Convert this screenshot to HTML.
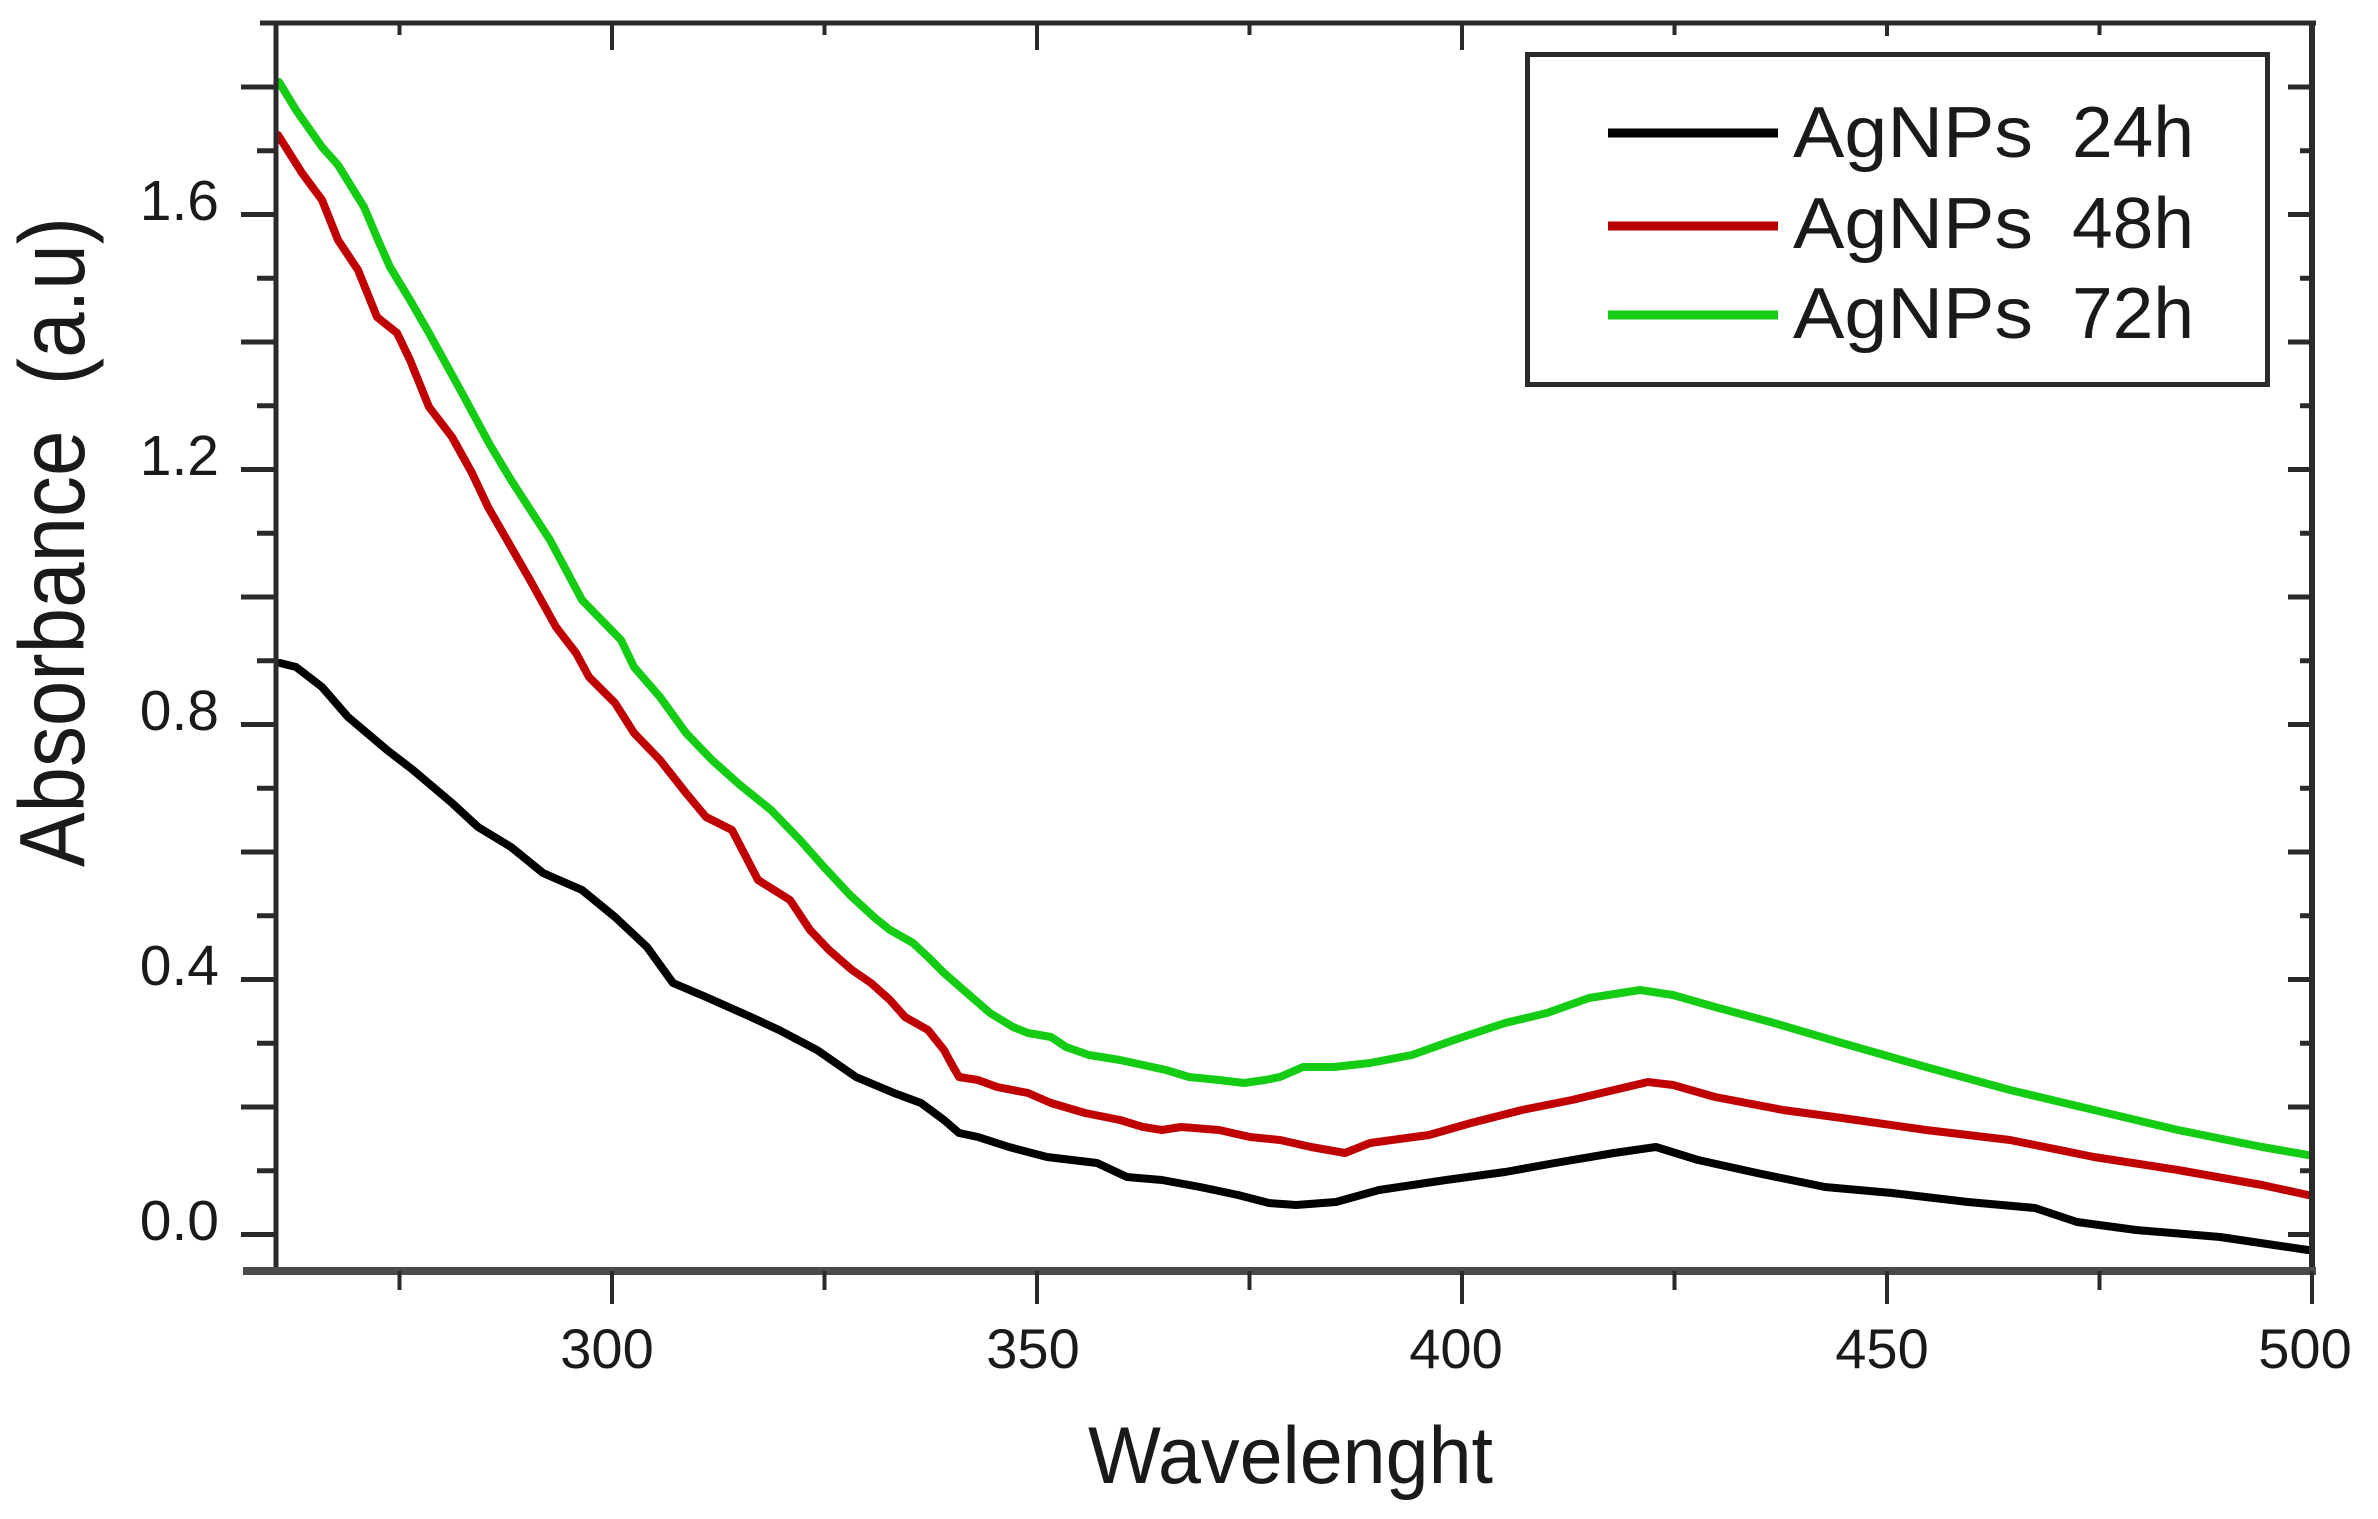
<!DOCTYPE html>
<html>
<head>
<meta charset="utf-8">
<style>
html,body{margin:0;padding:0;background:#fff;}
svg{display:block;}
text{font-family:"Liberation Sans",Arial,sans-serif;fill:#1a1a1a;}
</style>
</head>
<body>
<svg width="2378" height="1519" viewBox="0 0 2378 1519" xmlns="http://www.w3.org/2000/svg">
<rect width="2378" height="1519" fill="#fff"/>

<!-- curves -->
<g fill="none" stroke-width="8" stroke-linejoin="round" stroke-linecap="round">
<polyline stroke="#000" points="280,663 296,667 322,687 348,717 387,750 413,770 452,803 478,827 511,847 543,873 582,890 615,917 647,947 673,983 706,997 751,1017 779,1030 817,1050 856,1077 894,1093 921,1103 944,1120 959,1133 978,1137 1009,1147 1047,1157 1097,1163 1127,1177 1162,1180 1200,1187 1238,1195 1269,1203 1296,1205 1336,1202 1379,1190 1446,1180 1505,1172 1555,1163 1614,1153 1656,1147 1698,1160 1757,1173 1825,1187 1892,1193 1968,1202 2035,1208 2077,1222 2136,1230 2220,1237 2308,1250"/>
<polyline stroke="#c00000" points="278,135 302,173 322,200 338,240 358,270 377,317 397,333 410,360 429,407 452,437 472,473 488,507 507,540 530,580 556,627 576,653 589,677 615,703 634,733 660,760 686,793 706,817 732,830 758,880 790,900 810,930 829,950 852,970 871,983 890,1000 905,1017 928,1030 944,1050 951,1063 959,1077 978,1080 997,1087 1028,1093 1051,1103 1085,1113 1120,1120 1143,1127 1162,1130 1181,1127 1219,1130 1250,1137 1280,1140 1311,1147 1345,1153 1370,1143 1429,1135 1471,1123 1522,1110 1572,1100 1614,1090 1648,1082 1673,1085 1715,1097 1783,1110 1842,1118 1926,1130 2010,1140 2094,1157 2178,1170 2262,1185 2308,1195"/>
<polyline stroke="#14cc14" points="279,82 296,110 322,147 338,165 364,207 378,240 390,267 410,300 429,333 462,393 490,445 511,480 550,540 582,600 621,640 634,667 660,697 686,733 712,760 740,785 771,810 800,840 823,866 850,895 875,918 890,930 913,943 928,957 944,973 967,993 990,1013 1013,1027 1028,1033 1051,1037 1066,1047 1089,1055 1120,1060 1143,1065 1166,1070 1189,1077 1219,1080 1244,1083 1265,1080 1280,1077 1303,1067 1334,1067 1370,1063 1412,1055 1454,1040 1505,1023 1547,1013 1589,998 1640,990 1673,995 1715,1007 1774,1023 1842,1043 1926,1067 2010,1090 2094,1110 2178,1130 2262,1147 2308,1155"/>
</g>

<!-- frame -->
<g stroke="#2a2a2a" fill="none">
<line x1="260" y1="23" x2="2316" y2="23" stroke-width="5"/>
<line x1="276" y1="21" x2="276" y2="1275" stroke-width="5"/>
<line x1="2312" y1="21" x2="2312" y2="1275" stroke-width="6"/>
<line x1="243" y1="1271" x2="2316" y2="1271" stroke-width="8" stroke="#4a4a4a"/>
</g>

<!-- left ticks -->
<g stroke="#2a2a2a" stroke-width="5">
<line x1="241" y1="1234.5" x2="276" y2="1234.5"/>
<line x1="241" y1="1107" x2="276" y2="1107"/>
<line x1="241" y1="979.5" x2="276" y2="979.5"/>
<line x1="241" y1="852" x2="276" y2="852"/>
<line x1="241" y1="724.5" x2="276" y2="724.5"/>
<line x1="241" y1="597" x2="276" y2="597"/>
<line x1="241" y1="469.5" x2="276" y2="469.5"/>
<line x1="241" y1="342" x2="276" y2="342"/>
<line x1="241" y1="214.5" x2="276" y2="214.5"/>
<line x1="241" y1="87" x2="276" y2="87"/>
<line x1="257" y1="1170.75" x2="276" y2="1170.75"/>
<line x1="257" y1="1043.25" x2="276" y2="1043.25"/>
<line x1="257" y1="915.75" x2="276" y2="915.75"/>
<line x1="257" y1="788.25" x2="276" y2="788.25"/>
<line x1="257" y1="660.75" x2="276" y2="660.75"/>
<line x1="257" y1="533.25" x2="276" y2="533.25"/>
<line x1="257" y1="405.75" x2="276" y2="405.75"/>
<line x1="257" y1="278.25" x2="276" y2="278.25"/>
<line x1="257" y1="150.75" x2="276" y2="150.75"/>
</g>

<!-- right ticks -->
<g stroke="#2a2a2a" stroke-width="5">
<line x1="2288" y1="1234.5" x2="2312" y2="1234.5"/>
<line x1="2288" y1="1107" x2="2312" y2="1107"/>
<line x1="2288" y1="979.5" x2="2312" y2="979.5"/>
<line x1="2288" y1="852" x2="2312" y2="852"/>
<line x1="2288" y1="724.5" x2="2312" y2="724.5"/>
<line x1="2288" y1="597" x2="2312" y2="597"/>
<line x1="2288" y1="469.5" x2="2312" y2="469.5"/>
<line x1="2288" y1="342" x2="2312" y2="342"/>
<line x1="2288" y1="214.5" x2="2312" y2="214.5"/>
<line x1="2288" y1="87" x2="2312" y2="87"/>
<line x1="2300" y1="1170.75" x2="2312" y2="1170.75"/>
<line x1="2300" y1="1043.25" x2="2312" y2="1043.25"/>
<line x1="2300" y1="915.75" x2="2312" y2="915.75"/>
<line x1="2300" y1="788.25" x2="2312" y2="788.25"/>
<line x1="2300" y1="660.75" x2="2312" y2="660.75"/>
<line x1="2300" y1="533.25" x2="2312" y2="533.25"/>
<line x1="2300" y1="405.75" x2="2312" y2="405.75"/>
<line x1="2300" y1="278.25" x2="2312" y2="278.25"/>
<line x1="2300" y1="150.75" x2="2312" y2="150.75"/>
</g>

<!-- bottom ticks -->
<g stroke="#2a2a2a" stroke-width="4">
<line x1="612" y1="1271" x2="612" y2="1304"/>
<line x1="1037" y1="1271" x2="1037" y2="1304"/>
<line x1="1462" y1="1271" x2="1462" y2="1304"/>
<line x1="1887" y1="1271" x2="1887" y2="1304"/>
<line x1="2312" y1="1271" x2="2312" y2="1304"/>
<line x1="399.5" y1="1271" x2="399.5" y2="1290"/>
<line x1="824.5" y1="1271" x2="824.5" y2="1290"/>
<line x1="1249.5" y1="1271" x2="1249.5" y2="1290"/>
<line x1="1674.5" y1="1271" x2="1674.5" y2="1290"/>
<line x1="2099.5" y1="1271" x2="2099.5" y2="1290"/>
</g>

<!-- top ticks -->
<g stroke="#2a2a2a" stroke-width="4">
<line x1="612" y1="23" x2="612" y2="50"/>
<line x1="1037" y1="23" x2="1037" y2="50"/>
<line x1="1462" y1="23" x2="1462" y2="50"/>
<line x1="1887" y1="23" x2="1887" y2="36"/>
<line x1="399.5" y1="23" x2="399.5" y2="35"/>
<line x1="824.5" y1="23" x2="824.5" y2="35"/>
<line x1="1249.5" y1="23" x2="1249.5" y2="35"/>
<line x1="1674.5" y1="23" x2="1674.5" y2="35"/>
<line x1="2099.5" y1="23" x2="2099.5" y2="35"/>
</g>

<!-- y tick labels -->
<g font-size="57" text-anchor="end" fill="#1a1a1a">
<text x="219" y="1240">0.0</text>
<text x="219" y="985">0.4</text>
<text x="219" y="730">0.8</text>
<text x="219" y="475">1.2</text>
<text x="219" y="220">1.6</text>
</g>

<!-- x tick labels -->
<g font-size="56" text-anchor="middle">
<text x="607" y="1368">300</text>
<text x="1033" y="1368">350</text>
<text x="1456" y="1368">400</text>
<text x="1882" y="1368">450</text>
<text x="2305" y="1368">500</text>
</g>

<!-- axis titles -->
<text x="1088" y="1483" font-size="81" textLength="405" lengthAdjust="spacingAndGlyphs" fill="#222">Wavelenght</text>
<text transform="translate(84,867) rotate(-90)" font-size="93" textLength="650" lengthAdjust="spacingAndGlyphs" fill="#222">Absorbance&#160; (a.u)</text>

<!-- legend -->
<rect x="1527.5" y="54.5" width="740" height="330" fill="#fff" stroke="#2b2b2b" stroke-width="5"/>
<g stroke-width="9">
<line x1="1608" y1="133" x2="1778" y2="133" stroke="#000"/>
<line x1="1608" y1="226" x2="1778" y2="226" stroke="#b80000"/>
<line x1="1608" y1="315" x2="1778" y2="315" stroke="#14cc14"/>
</g>
<g font-size="72" fill="#1a1a1a">
<text x="1793" y="157" textLength="240" lengthAdjust="spacingAndGlyphs">AgNPs</text>
<text x="2072" y="157" textLength="122" lengthAdjust="spacingAndGlyphs">24h</text>
<text x="1793" y="248" textLength="240" lengthAdjust="spacingAndGlyphs">AgNPs</text>
<text x="2072" y="248" textLength="122" lengthAdjust="spacingAndGlyphs">48h</text>
<text x="1793" y="338" textLength="240" lengthAdjust="spacingAndGlyphs">AgNPs</text>
<text x="2072" y="338" textLength="122" lengthAdjust="spacingAndGlyphs">72h</text>
</g>
</svg>
</body>
</html>
